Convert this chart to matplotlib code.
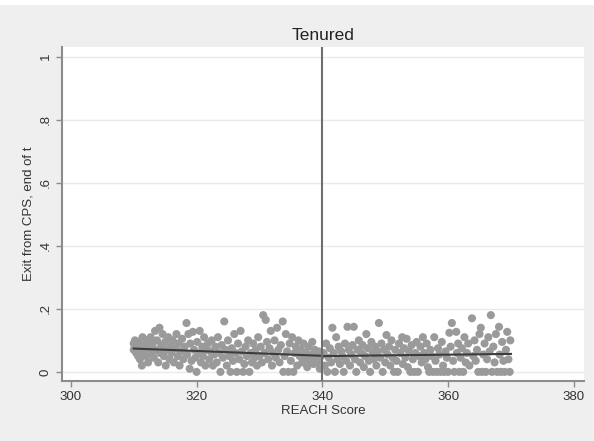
import matplotlib.pyplot as plt
from matplotlib.patches import Rectangle

plt.rcParams['font.family'] = ['Liberation Sans', 'DejaVu Sans']

# binned exit rates by REACH score
pts = [
    (310.0, 0.09), (310.0, 0.07), (310.2, 0.10), (310.4, 0.06), (310.5, 0.08), (310.7, 0.05), (310.8, 0.095),
    (311.0, 0.04), (311.1, 0.07), (311.3, 0.02), (311.4, 0.11), (311.6, 0.06), (311.8, 0.085), (312.0, 0.05),
    (312.1, 0.10), (312.3, 0.03), (312.5, 0.075), (312.7, 0.11), (312.9, 0.06), (313.0, 0.09),
    (313.2, 0.045), (313.4, 0.13), (313.5, 0.07), (313.7, 0.10), (313.9, 0.03), (314.1, 0.14), (314.2, 0.06),
    (314.4, 0.085), (314.6, 0.12), (314.8, 0.05), (315.0, 0.095), (315.1, 0.02), (315.3, 0.07), (315.5, 0.11),
    (315.7, 0.04), (315.9, 0.08), (316.0, 0.06),
    (316.2, 0.10), (316.4, 0.03), (316.6, 0.075), (316.8, 0.12), (317.0, 0.05), (317.1, 0.09), (317.3, 0.02),
    (317.5, 0.065), (317.7, 0.105), (317.9, 0.04), (318.1, 0.08), (318.4, 0.155), (318.5, 0.055), (318.7, 0.12),
    (318.9, 0.01), (319.0, 0.09), (319.2, 0.035), (319.4, 0.127), (319.6, 0.07), (319.8, 0.045),
    (320.0, 0.0), (320.1, 0.095), (320.3, 0.06), (320.5, 0.13), (320.7, 0.03), (320.9, 0.08), (321.0, 0.05),
    (321.2, 0.11), (321.4, 0.02), (321.6, 0.07), (321.8, 0.09), (322.0, 0.04), (322.2, 0.065), (322.4, 0.10),
    (322.6, 0.02), (322.8, 0.055), (323.0, 0.08), (323.2, 0.03), (323.4, 0.11), (323.6, 0.06), (323.8, 0.0),
    (324.0, 0.085), (324.2, 0.045), (324.4, 0.16), (324.6, 0.07), (324.8, 0.02),
    (325.0, 0.10), (325.2, 0.05), (325.4, 0.0), (325.6, 0.075), (325.8, 0.035), (326.0, 0.12), (326.2, 0.06),
    (326.4, 0.0), (326.6, 0.09), (326.8, 0.04), (327.0, 0.13), (327.2, 0.065), (327.4, 0.0), (327.6, 0.025),
    (327.8, 0.08), (328.0, 0.05), (328.2, 0.10), (328.4, 0.0), (328.6, 0.06), (328.8, 0.03), (329.0, 0.09),
    (329.2, 0.045), (329.4, 0.07), (329.6, 0.02), (329.8, 0.11),
    (330.0, 0.05), (330.2, 0.08), (330.4, 0.03), (330.6, 0.18), (330.8, 0.06), (331.0, 0.165), (331.2, 0.095),
    (331.4, 0.04), (331.6, 0.075), (331.8, 0.13), (332.0, 0.02), (332.2, 0.06), (332.4, 0.10), (332.6, 0.045),
    (332.8, 0.14), (333.0, 0.07), (333.2, 0.03), (333.4, 0.085), (333.7, 0.16), (333.8, 0.0), (334.0, 0.05),
    (334.2, 0.12), (334.4, 0.065), (334.6, 0.0), (334.8, 0.09),
    (335.0, 0.035), (335.2, 0.11), (335.4, 0.0), (335.6, 0.06), (335.8, 0.08), (336.0, 0.02), (336.2, 0.10),
    (336.4, 0.05), (336.6, 0.07), (336.8, 0.03), (337.0, 0.09), (337.2, 0.045), (337.4, 0.06), (337.6, 0.015),
    (337.8, 0.08), (338.0, 0.035), (338.2, 0.055), (338.4, 0.095), (338.6, 0.025), (338.8, 0.07), (339.0, 0.045),
    (339.2, 0.03), (339.4, 0.065), (339.6, 0.01), (339.8, 0.05),
    (340.2, 0.06), (340.4, 0.02), (340.6, 0.09), (340.8, 0.0), (341.0, 0.045), (341.2, 0.075), (341.4, 0.03),
    (341.6, 0.14), (341.8, 0.06), (342.0, 0.0), (342.2, 0.11), (342.4, 0.04), (342.6, 0.08), (342.8, 0.025),
    (343.0, 0.065), (343.2, 0.05), (343.4, 0.0), (343.6, 0.09), (343.8, 0.035), (344.0, 0.143), (344.2, 0.07),
    (344.4, 0.02), (344.6, 0.055), (344.8, 0.085), (345.0, 0.143),
    (345.2, 0.04), (345.4, 0.0), (345.6, 0.07), (345.8, 0.10), (346.0, 0.03), (346.2, 0.06), (346.4, 0.085),
    (346.6, 0.015), (346.8, 0.05), (347.0, 0.12), (347.2, 0.075), (347.4, 0.035), (347.6, 0.0), (347.8, 0.095),
    (348.0, 0.06), (348.2, 0.04), (348.4, 0.08), (348.6, 0.02), (348.8, 0.065), (349.0, 0.155), (349.2, 0.045),
    (349.4, 0.09), (349.6, 0.0), (349.8, 0.07),
    (350.0, 0.03), (350.2, 0.117), (350.4, 0.055), (350.6, 0.08), (350.8, 0.02), (351.0, 0.10), (351.2, 0.045),
    (351.4, 0.0), (351.6, 0.07), (351.8, 0.035), (352.0, 0.0), (352.2, 0.09), (352.4, 0.06), (352.7, 0.11),
    (352.8, 0.025), (353.0, 0.075), (353.2, 0.045), (353.4, 0.105), (353.6, 0.015), (353.8, 0.065), (354.0, 0.0),
    (354.2, 0.085), (354.4, 0.04), (354.6, 0.0), (354.8, 0.06), (355.0, 0.095), (355.2, 0.0),
    (355.4, 0.05), (355.6, 0.08), (355.8, 0.03), (356.0, 0.11), (356.2, 0.06), (356.4, 0.04), (356.6, 0.09),
    (356.8, 0.015), (357.0, 0.0), (357.2, 0.07), (357.4, 0.05), (357.6, 0.0), (357.8, 0.11), (358.0, 0.035),
    (358.2, 0.0), (358.4, 0.075), (358.6, 0.055), (358.8, 0.0), (359.0, 0.095), (359.2, 0.02), (359.4, 0.0),
    (359.6, 0.065), (359.8, 0.045),
    (360.0, 0.0), (360.2, 0.124), (360.4, 0.08), (360.6, 0.155), (360.8, 0.035), (361.0, 0.0), (361.3, 0.127),
    (361.4, 0.06), (361.6, 0.09), (361.8, 0.0), (362.0, 0.045), (362.2, 0.075), (362.4, 0.0), (362.6, 0.11),
    (362.8, 0.03), (363.0, 0.06), (363.2, 0.09), (363.4, 0.02), (363.8, 0.17), (364.0, 0.05), (364.2, 0.10),
    (364.4, 0.035), (364.6, 0.07), (364.8, 0.0), (365.0, 0.12),
    (365.2, 0.14), (365.4, 0.0), (365.6, 0.055), (365.8, 0.09), (366.0, 0.0), (366.2, 0.04), (366.4, 0.11),
    (366.6, 0.065), (366.8, 0.18), (367.0, 0.0), (367.2, 0.08), (367.4, 0.03), (367.6, 0.12), (367.8, 0.0),
    (368.1, 0.143), (368.2, 0.055), (368.4, 0.0), (368.6, 0.095), (368.8, 0.035), (369.0, 0.0), (369.2, 0.07),
    (369.4, 0.127), (369.6, 0.04), (369.8, 0.0), (369.9, 0.10),
]
score = [p[0] for p in pts]
exit_rate = [p[1] for p in pts]

# linear fits on each side of the cutoff
cutoff = 340
fit_left_x = [310, 340]
fit_left_y = [0.074, 0.051]
fit_right_x = [340, 370]
fit_right_y = [0.050, 0.057]

xticks = [300, 320, 340, 360, 380]
yticks = [0, 0.2, 0.4, 0.6, 0.8, 1]
ytick_labels = ['0', '.2', '.4', '.6', '.8', '1']

bg = '#efefef'
fig = plt.figure(figsize=(5.94, 4.41), dpi=100)
fig.patch.set_facecolor(bg)
# white strip left over at the top of the crop
fig.patches.append(Rectangle((0, 0.989), 1, 0.011, transform=fig.transFigure,
                             facecolor='white', edgecolor='none', zorder=0))

ax = fig.add_axes([0.1044, 0.136, 0.8786, 0.757])
ax.set_facecolor('white')

for y in yticks:
    ax.axhline(y, color='#eaeaea', lw=1, zorder=0)

ax.scatter(score, exit_rate, s=34, color='#9a9a9a', edgecolors='none', zorder=2)
ax.plot(fit_left_x, fit_left_y, color='#3c3c3c', lw=1.5, zorder=3)
ax.plot(fit_right_x, fit_right_y, color='#3c3c3c', lw=1.5, zorder=3)
ax.axvline(cutoff, color='#6e6e6e', lw=1.5, zorder=4)

ax.set_xlim(298.6, 381.6)
ax.set_ylim(-0.029, 1.03)
ax.set_xticks(xticks)
ax.set_yticks(yticks)
ax.set_yticklabels(ytick_labels, rotation=90, va='center')

for side in ['top', 'right']:
    ax.spines[side].set_visible(False)
for side in ['left', 'bottom']:
    ax.spines[side].set_color('#8c8c8c')
    ax.spines[side].set_linewidth(1.5)
ax.tick_params(colors='#8c8c8c', labelcolor='#333333', labelsize=9.5, length=4, width=1)

ax.set_xlabel('REACH Score', fontsize=9.5, color='#333333', labelpad=1)
ax.set_ylabel('Exit from CPS, end of t', fontsize=9.5, color='#333333', labelpad=4)
ax.set_title('Tenured', fontsize=12.5, color='#222222', pad=5)

fig.savefig('out.png', dpi=100, facecolor=bg)
